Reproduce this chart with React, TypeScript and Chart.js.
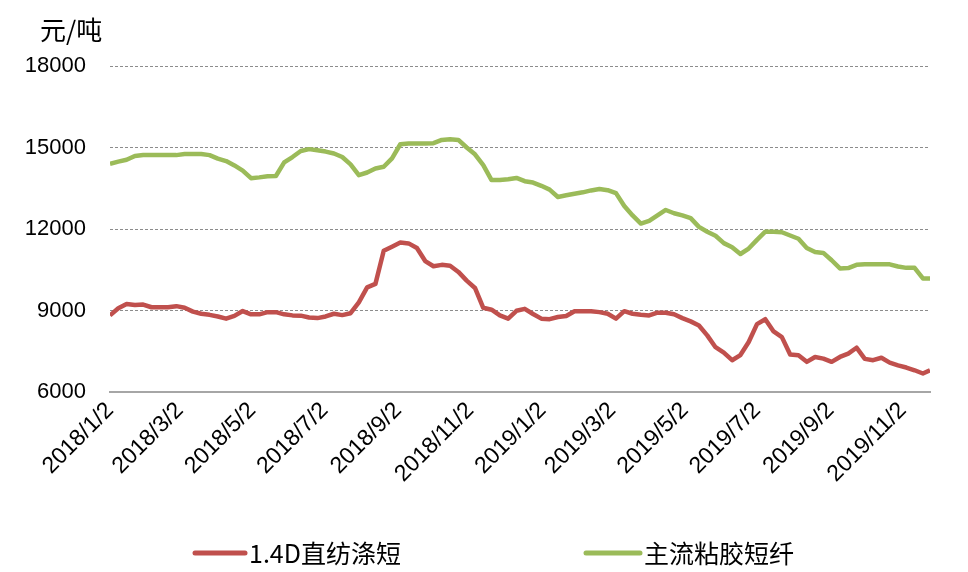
import React, { useEffect, useRef } from 'react';
import { Chart, registerables } from 'chart.js';

Chart.register(...registerables);

// 周度采样日期
const dates = [
  '2018/1/2', '2018/1/9', '2018/1/16', '2018/1/23', '2018/1/30',
  '2018/2/6', '2018/2/13', '2018/2/20', '2018/2/27',
  '2018/3/6', '2018/3/13', '2018/3/20', '2018/3/27',
  '2018/4/3', '2018/4/10', '2018/4/17', '2018/4/24',
  '2018/5/1', '2018/5/8', '2018/5/15', '2018/5/22', '2018/5/29',
  '2018/6/5', '2018/6/12', '2018/6/19', '2018/6/26',
  '2018/7/3', '2018/7/10', '2018/7/17', '2018/7/24', '2018/7/31',
  '2018/8/7', '2018/8/14', '2018/8/21', '2018/8/28',
  '2018/9/4', '2018/9/11', '2018/9/18', '2018/9/25',
  '2018/10/2', '2018/10/9', '2018/10/16', '2018/10/23', '2018/10/30',
  '2018/11/6', '2018/11/13', '2018/11/20', '2018/11/27',
  '2018/12/4', '2018/12/11', '2018/12/18', '2018/12/25',
  '2019/1/1', '2019/1/8', '2019/1/15', '2019/1/22', '2019/1/29',
  '2019/2/5', '2019/2/12', '2019/2/19', '2019/2/26',
  '2019/3/5', '2019/3/12', '2019/3/19', '2019/3/26',
  '2019/4/2', '2019/4/9', '2019/4/16', '2019/4/23', '2019/4/30',
  '2019/5/7', '2019/5/14', '2019/5/21', '2019/5/28',
  '2019/6/4', '2019/6/11', '2019/6/18', '2019/6/25',
  '2019/7/2', '2019/7/9', '2019/7/16', '2019/7/23', '2019/7/30',
  '2019/8/6', '2019/8/13', '2019/8/20', '2019/8/27',
  '2019/9/3', '2019/9/10', '2019/9/17', '2019/9/24',
  '2019/10/1', '2019/10/8', '2019/10/15', '2019/10/22', '2019/10/29',
  '2019/11/5', '2019/11/12', '2019/11/19', '2019/11/25',
];

// 1.4D直纺涤短
const polyester = [
  8820, 9080, 9240, 9200, 9220,
  9120, 9120, 9120, 9160,
  9100, 8960, 8880, 8840,
  8780, 8700, 8800, 8980,
  8860, 8860, 8940, 8940, 8860,
  8820, 8810, 8740, 8720,
  8780, 8880, 8830, 8900, 9300,
  9850, 9980, 11200, 11350,
  11500, 11470, 11300, 10820,
  10630, 10680, 10650, 10420, 10100,
  9830, 9100, 9030, 8820,
  8700, 8990, 9060, 8870,
  8700, 8680, 8760, 8800, 8975,
  8975, 8975, 8940, 8880,
  8700, 8975, 8880, 8840,
  8820, 8920, 8920, 8860, 8720,
  8600, 8450, 8085, 7650,
  7450, 7170, 7360, 7840,
  8500, 8680, 8230, 8020, 7380,
  7350, 7110, 7290, 7230,
  7110, 7290, 7415, 7630,
  7220, 7170, 7260, 7080, 6980,
  6900, 6800, 6680, 6800,
];

// 主流粘胶短纤
const viscose = [
  14400, 14480, 14550, 14690, 14720,
  14720, 14720, 14720, 14720,
  14760, 14760, 14760, 14720,
  14590, 14500, 14340, 14150,
  13870, 13900, 13940, 13950, 14450,
  14650, 14870, 14940, 14900,
  14850, 14780, 14650, 14380, 13980,
  14080, 14230, 14290, 14600,
  15120, 15150, 15150, 15150,
  15160, 15280, 15300, 15280, 15000,
  14750, 14350, 13800, 13800,
  13830, 13880, 13760, 13710,
  13590, 13450, 13180, 13240, 13300,
  13350, 13420, 13470, 13430,
  13320, 12850, 12500, 12200,
  12300, 12500, 12700, 12580, 12500,
  12400, 12080, 11900, 11750,
  11480, 11330, 11080, 11280,
  11600, 11900, 11900, 11880, 11760,
  11640, 11300, 11150, 11120,
  10850, 10550, 10560, 10680,
  10700, 10700, 10700, 10700, 10620,
  10570, 10570, 10180, 10180,
];

const seriesNames = ['1.4D直纺涤短', '主流粘胶短纤'];
const seriesColors = ['#C0504D', '#9BBB59'];
const tickLabels = [
  '2018/1/2', '2018/3/2', '2018/5/2', '2018/7/2', '2018/9/2', '2018/11/2',
  '2019/1/2', '2019/3/2', '2019/5/2', '2019/7/2', '2019/9/2', '2019/11/2',
];
const unitLabel = '元/吨';

const dayOf = (s: string) => {
  const [y, m, d] = s.split('/').map(Number);
  const [y0, m0, d0] = dates[0].split('/').map(Number);
  return (Date.UTC(y, m - 1, d) - Date.UTC(y0, m0 - 1, d0)) / 86400000;
};

const cjk = '"Noto Sans CJK SC", sans-serif';
const latin = '"Liberation Sans", sans-serif';

// 单位和图例直接画在画布上
const extras = {
  id: 'extras',
  afterDraw(chart: any) {
    const ctx = chart.ctx;
    ctx.save();
    ctx.fillStyle = '#000';
    ctx.textBaseline = 'middle';
    ctx.textAlign = 'left';
    ctx.font = `26px ${cjk}`;
    ctx.fillText(unitLabel, 40, 30);

    const items = [
      { x: 195, w: 50 },
      { x: 586, w: 54 },
    ];
    chart.data.datasets.forEach((ds: any, i: number) => {
      const it = items[i];
      const y = 553;
      ctx.strokeStyle = ds.borderColor;
      ctx.lineWidth = 5;
      ctx.lineCap = 'round';
      ctx.beginPath();
      ctx.moveTo(it.x, y);
      ctx.lineTo(it.x + it.w, y);
      ctx.stroke();
      ctx.font = `25px ${cjk}`;
      ctx.fillText(ds.label, it.x + it.w + 4, y);
    });
    ctx.restore();
  },
};

const App = () => {
  const canvasRef = useRef<HTMLCanvasElement>(null);

  useEffect(() => {
    const ctx = canvasRef.current!.getContext('2d')!;
    const tickDays = tickLabels.map(dayOf);
    const toPoints = (vals: number[]) => dates.map((d, i) => ({ x: dayOf(d), y: vals[i] }));

    const c = new Chart(ctx, {
      type: 'line',
      data: {
        datasets: [
          {
            label: seriesNames[0],
            data: toPoints(polyester),
            borderColor: seriesColors[0],
            borderWidth: 4.5,
            pointRadius: 0,
            borderJoinStyle: 'round',
          },
          {
            label: seriesNames[1],
            data: toPoints(viscose),
            borderColor: seriesColors[1],
            borderWidth: 4.5,
            pointRadius: 0,
            borderJoinStyle: 'round',
          },
        ],
      },
      options: {
        animation: false,
        responsive: true,
        maintainAspectRatio: false,
        layout: { padding: { left: 0, right: 38, top: 66, bottom: 80 } },
        plugins: {
          legend: { display: false },
          tooltip: { enabled: false },
        },
        scales: {
          x: {
            type: 'linear',
            min: 0,
            max: dayOf(dates[dates.length - 1]),
            afterBuildTicks: (scale: any) => {
              scale.ticks = tickDays.map((v) => ({ value: v }));
            },
            afterFit: (scale: any) => {
              scale.height = 100;
            },
            grid: { display: false, drawTicks: false },
            border: { display: true, color: '#A6A6A6', width: 2 },
            ticks: {
              autoSkip: false,
              minRotation: 45,
              maxRotation: 45,
              padding: 5,
              color: '#000',
              font: { size: 23, family: latin },
              callback: (v: any) => tickLabels[tickDays.indexOf(v)] ?? '',
            },
          },
          y: {
            min: 6000,
            max: 18000,
            afterFit: (scale: any) => {
              scale.width = 110;
            },
            grid: { color: '#8C8C8C', lineWidth: 1, drawTicks: false },
            border: { display: false, dash: [3, 2] },
            ticks: {
              stepSize: 3000,
              padding: 24,
              color: '#000',
              font: { size: 22, family: latin },
              callback: (v: any) => String(v),
            },
          },
        },
      },
      plugins: [extras],
    });
    return () => {
      c.destroy();
    };
  }, []);

  return (
    <div style={{ position: 'fixed', left: 0, top: 0, width: 968, height: 572, background: '#fff' }}>
      <canvas ref={canvasRef} />
    </div>
  );
};

export default App;
